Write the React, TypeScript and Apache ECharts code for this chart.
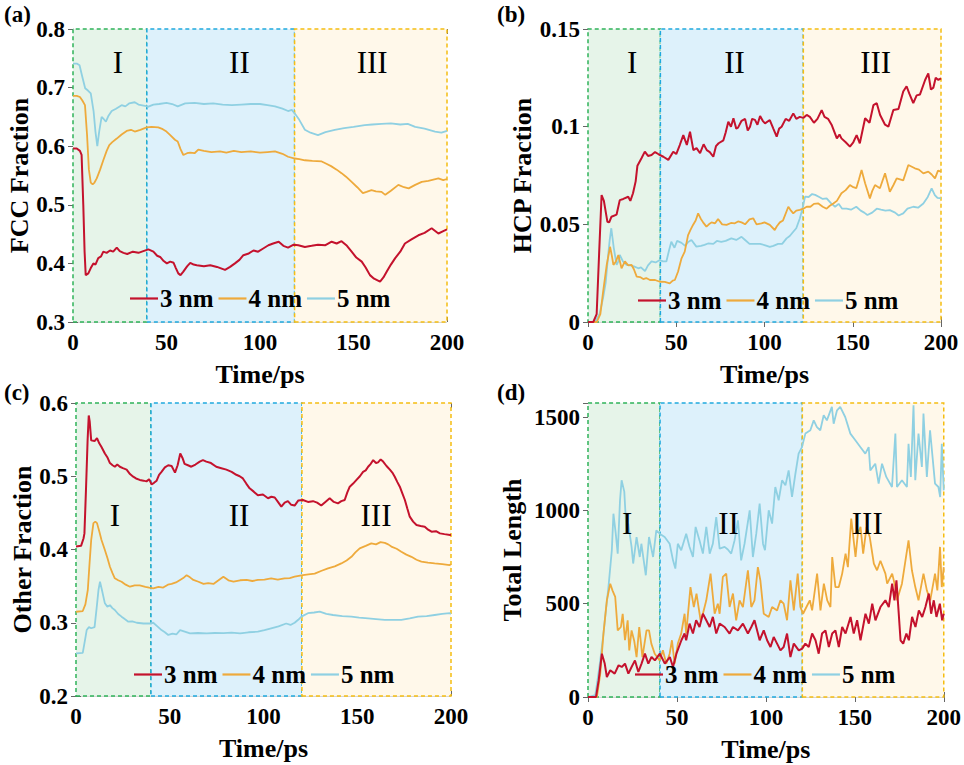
import React, { useEffect, useRef } from 'react';
import * as echarts from 'echarts';

const FONT = "'Times New Roman', 'Liberation Serif', serif";
const NAMES = ['3 nm', '4 nm', '5 nm'];
const COLORS = ['#c4122d', '#eeaa3c', '#8fd0e2'];
const REGION_NAMES = ['I', 'II', 'III'];
const X_MIN = 0;
const X_MAX = 200;
const X_INTERVAL = 50;

// (a) FCC fraction
const fcc3 = [[0,0.596],[2,0.596],[3.7,0.592],[4.6,0.585],[5.5,0.50],[6.2,0.42],[6.8,0.380],[8.2,0.383],[9.5,0.392],[10.9,0.400],[12,0.398],[13.5,0.409],[15,0.412],[16.2,0.420],[18,0.418],[19.8,0.422],[21.5,0.420],[23.4,0.427],[25,0.421],[27,0.418],[29,0.416],[32,0.420],[35,0.418],[37.6,0.421],[40.3,0.424],[43,0.420],[45,0.413],[46.6,0.411],[48.5,0.404],[50.2,0.400],[52,0.403],[53.8,0.401],[55,0.392],[56.3,0.383],[57.5,0.380],[59,0.386],[61,0.395],[62.7,0.401],[64.5,0.398],[66.2,0.397],[70,0.395],[73.4,0.397],[77,0.394],[81.3,0.389],[84,0.394],[86.6,0.400],[89,0.406],[91.1,0.414],[94,0.417],[96.5,0.422],[99,0.420],[101.5,0.425],[104.5,0.431],[107,0.434],[110,0.437],[112.5,0.430],[115,0.427],[118,0.432],[120.5,0.431],[124,0.428],[127.6,0.430],[131,0.432],[135,0.431],[138.3,0.437],[141,0.434],[143.6,0.438],[146.5,0.430],[149,0.420],[151.5,0.410],[154.4,0.403],[156.5,0.393],[158.8,0.380],[161,0.374],[164.2,0.369],[166,0.376],[167.8,0.386],[170,0.398],[172.3,0.409],[175,0.420],[177.5,0.434],[181,0.441],[184.7,0.448],[188,0.452],[191.8,0.460],[195.4,0.451],[198,0.455],[200,0.458]];
const fcc4 = [[0,0.686],[2,0.686],[3.7,0.684],[5,0.678],[6.4,0.670],[7.5,0.62],[8.5,0.56],[9.5,0.538],[10.5,0.535],[11.5,0.538],[12.7,0.545],[14.5,0.560],[16.2,0.576],[18,0.592],[19.4,0.602],[21,0.607],[23.4,0.613],[26,0.620],[28.7,0.626],[31,0.628],[33,0.625],[36,0.628],[39.4,0.632],[42,0.633],[45.6,0.632],[48,0.629],[50,0.625],[52,0.619],[54.5,0.611],[56,0.608],[57.5,0.595],[59,0.585],[61,0.588],[62.7,0.589],[65,0.588],[67,0.594],[70,0.592],[74,0.590],[78.6,0.591],[82,0.589],[86,0.592],[90,0.590],[95,0.591],[100,0.589],[104,0.590],[108,0.591],[112,0.587],[115,0.582],[118.7,0.579],[121,0.578],[124,0.576],[128,0.575],[133,0.574],[135.5,0.570],[138,0.566],[141,0.560],[143.6,0.554],[146,0.548],[149,0.539],[152,0.530],[155,0.520],[157,0.522],[159.6,0.525],[162,0.523],[165,0.522],[167,0.517],[170,0.524],[174,0.534],[177,0.530],[179.5,0.528],[183,0.534],[186.5,0.539],[190,0.541],[195.4,0.545],[198,0.542],[200,0.544]];
const fcc5 = [[0,0.741],[2,0.741],[3.5,0.738],[5,0.718],[6.5,0.699],[8,0.695],[9.5,0.690],[11,0.660],[12,0.625],[13,0.600],[14,0.625],[15.3,0.650],[16.5,0.646],[17.6,0.642],[19,0.652],[20.7,0.660],[23,0.664],[26,0.670],[28,0.668],[30,0.673],[33,0.675],[35,0.671],[38.5,0.669],[40,0.667],[43,0.671],[46,0.672],[50,0.674],[53,0.672],[56,0.668],[60,0.673],[65,0.674],[70,0.672],[75,0.673],[80,0.671],[85,0.670],[90,0.671],[95,0.672],[100,0.672],[104,0.670],[108,0.668],[112,0.664],[115,0.660],[117,0.662],[119,0.654],[121,0.645],[124,0.628],[127,0.623],[131,0.619],[135,0.624],[140,0.628],[145,0.631],[150,0.633],[156,0.636],[160,0.637],[165,0.638],[170,0.639],[175,0.637],[179,0.638],[183,0.633],[188,0.630],[193.6,0.625],[197,0.623],[200,0.626]];

// (b) HCP fraction
const hcp3 = [[0,0],[3,0],[4.9,0.004],[6.3,0.035],[7.7,0.065],[9,0.062],[11,0.0513],[12,0.051],[13.3,0.0539],[16.2,0.055],[18,0.0624],[20,0.063],[22.8,0.0641],[24,0.062],[25.5,0.0659],[27,0.072],[28,0.080],[30.3,0.0838],[32.2,0.0872],[34,0.085],[36,0.0855],[38,0.087],[39.8,0.086],[42.7,0.0846],[45.5,0.083],[48.3,0.0872],[50,0.086],[52,0.0906],[54,0.0957],[56,0.0906],[57.8,0.0974],[59.7,0.088],[61.5,0.089],[63.5,0.0864],[65.5,0.091],[67.3,0.088],[69,0.087],[71,0.0846],[72.5,0.09],[74,0.0915],[76.7,0.093],[78,0.097],[79.5,0.1025],[81,0.100],[82.4,0.1043],[84,0.099],[85,0.0995],[87,0.103],[89,0.104],[90.5,0.098],[91.8,0.100],[93,0.104],[94.6,0.1035],[96,0.101],[97.5,0.1055],[99,0.103],[100.3,0.1017],[103,0.1034],[105,0.099],[106.9,0.0949],[108.3,0.099],[109.7,0.100],[112,0.104],[114,0.103],[116.3,0.1068],[118,0.104],[120,0.105],[122,0.1045],[123.9,0.106],[125.7,0.105],[128,0.102],[130,0.104],[132.4,0.1085],[134,0.105],[136,0.104],[138,0.101],[141,0.094],[142.5,0.096],[143.6,0.094],[146,0.092],[148.4,0.0898],[150.3,0.092],[152.2,0.0957],[154,0.0915],[157,0.1043],[159.5,0.102],[161.7,0.111],[163.6,0.112],[165.5,0.106],[168.3,0.101],[170.2,0.100],[173,0.1085],[175.9,0.109],[178.6,0.118],[180.5,0.1207],[182,0.117],[184.3,0.112],[186.2,0.116],[188.1,0.1165],[191,0.1239],[192.8,0.1273],[194.3,0.119],[195.7,0.120],[197,0.125],[198.5,0.1239],[200,0.1247]];
const hcp4 = [[0,0],[5,0],[7,0.004],[8.5,0.015],[10.6,0.0292],[12.5,0.0385],[13.5,0.034],[14.4,0.0292],[15.8,0.031],[17.2,0.0343],[19,0.0275],[20.9,0.031],[22.8,0.029],[24.7,0.0292],[26,0.027],[27.6,0.0232],[29.5,0.023],[31.3,0.022],[33,0.0225],[35.1,0.0215],[38,0.0215],[40.7,0.0206],[43.5,0.0205],[46.3,0.0198],[48,0.0212],[49.2,0.0215],[51,0.0257],[53,0.0326],[54.8,0.036],[56.7,0.0445],[58,0.047],[59.5,0.0497],[61,0.052],[62.4,0.0556],[63.8,0.053],[65.2,0.051],[67.1,0.0488],[68.5,0.050],[70,0.051],[72,0.0505],[73.7,0.0527],[76,0.050],[78.5,0.0497],[81,0.0507],[83.2,0.0505],[85,0.0515],[87,0.051],[89,0.050],[91.5,0.0525],[93.6,0.0531],[95.5,0.050],[98.3,0.0505],[100,0.051],[103,0.0497],[105.8,0.0471],[107,0.049],[108.7,0.051],[110.5,0.052],[113.5,0.059],[115,0.057],[116.3,0.0556],[118,0.057],[120,0.0574],[122,0.058],[123.9,0.059],[126,0.059],[128,0.0605],[130.5,0.0607],[133,0.059],[135.2,0.058],[137,0.0595],[139,0.0607],[141,0.062],[143.6,0.0659],[146,0.0675],[148.4,0.0701],[150.3,0.069],[152,0.0685],[153.5,0.073],[155,0.0778],[157,0.071],[159.7,0.0633],[161,0.067],[162.6,0.0701],[165.4,0.0685],[168.3,0.0761],[169.5,0.072],[171,0.0667],[173,0.070],[174.9,0.0735],[176.8,0.073],[178.6,0.0725],[181.5,0.0804],[183.5,0.0795],[185.2,0.0787],[187.5,0.078],[190,0.0761],[192.8,0.077],[194.7,0.0755],[196.6,0.0735],[198.3,0.0775],[200,0.0770]];
const hcp5 = [[0,0],[4,0],[6.5,0.004],[8.5,0.0121],[10,0.02],[11.3,0.033],[12.3,0.042],[13.2,0.048],[14.6,0.038],[16.2,0.0292],[17.2,0.031],[18,0.0343],[19.8,0.031],[21.8,0.0292],[24,0.029],[26,0.0285],[28.5,0.0275],[30,0.028],[32.3,0.026],[34,0.029],[36,0.031],[38.3,0.0305],[40.7,0.0317],[42.5,0.031],[44.4,0.031],[46,0.037],[47.2,0.0411],[49,0.038],[50.5,0.0415],[53,0.0405],[55,0.039],[56.8,0.041],[58.6,0.042],[61.4,0.0386],[64,0.039],[66,0.0395],[68,0.0402],[71,0.040],[73,0.0415],[75.5,0.041],[78,0.0415],[81.2,0.0428],[84,0.042],[87,0.0436],[89,0.042],[91.5,0.040],[94.6,0.040],[97.5,0.040],[100,0.0394],[103,0.0385],[105,0.039],[107.7,0.040],[110,0.040],[112.5,0.0428],[114.3,0.044],[116.3,0.0462],[118,0.048],[120,0.053],[121.5,0.058],[123,0.0642],[125,0.064],[127,0.0655],[128.7,0.0651],[131,0.064],[133,0.063],[135.2,0.0633],[137.5,0.061],[140,0.059],[142,0.0605],[144,0.058],[146.5,0.058],[149,0.0575],[152,0.059],[154.5,0.057],[156.5,0.056],[158.3,0.0548],[161,0.056],[163.6,0.058],[166,0.0575],[168.5,0.057],[171,0.0573],[174,0.056],[176,0.0545],[178.6,0.0556],[181,0.058],[184.3,0.059],[187,0.0585],[190,0.0607],[192.5,0.064],[194.7,0.0684],[196.5,0.065],[198,0.0635],[200,0.0633]];

// (c) Other fraction
const oth3 = [[0,0.404],[2.7,0.405],[4,0.415],[4.5,0.422],[5.3,0.48],[6.2,0.55],[6.8,0.583],[7.3,0.575],[8.1,0.549],[9.9,0.548],[11.2,0.552],[12.4,0.545],[13.6,0.540],[15.4,0.531],[16.7,0.526],[18.1,0.518],[19.5,0.515],[20.7,0.513],[22,0.516],[23.4,0.513],[25,0.511],[27,0.509],[28.8,0.503],[30.5,0.4994],[32,0.497],[34,0.495],[36,0.494],[37.6,0.493],[39,0.496],[40.3,0.489],[41.6,0.491],[43,0.494],[44.3,0.502],[45.6,0.506],[47.4,0.512],[49.2,0.515],[51,0.514],[52.8,0.505],[54.2,0.515],[55.6,0.531],[56.8,0.525],[57.9,0.517],[59.7,0.515],[61.5,0.513],[63.7,0.516],[66,0.520],[67.7,0.522],[69.5,0.520],[72,0.518],[74.8,0.513],[77.5,0.511],[80.2,0.509],[83,0.506],[85.5,0.502],[87.3,0.500],[89,0.497],[90.8,0.490],[92.6,0.4835],[94.8,0.479],[97,0.474],[99.7,0.475],[102.4,0.470],[104.2,0.472],[106,0.471],[107.7,0.465],[109.5,0.4585],[111.3,0.464],[113,0.466],[114.8,0.461],[116.6,0.460],[118.6,0.467],[121,0.4676],[123.7,0.465],[126.4,0.466],[128.6,0.464],[130.8,0.460],[133,0.465],[135.3,0.470],[137.5,0.465],[139.7,0.463],[141.5,0.466],[143.3,0.4676],[144.7,0.478],[146,0.4857],[147.8,0.490],[149.6,0.495],[151.4,0.500],[153.1,0.506],[154.5,0.508],[155.8,0.513],[157.2,0.517],[158.5,0.522],[160,0.518],[161.1,0.519],[162.5,0.523],[163.8,0.520],[165.6,0.514],[167.4,0.509],[168.7,0.505],[170,0.4994],[171.4,0.492],[172.7,0.4857],[174,0.477],[175.4,0.4676],[176.7,0.456],[178,0.4448],[179.8,0.438],[181.6,0.4334],[183.8,0.432],[186,0.431],[187.8,0.427],[189.6,0.4243],[192,0.425],[194.1,0.422],[196.5,0.421],[199.5,0.4198],[200,0.420]];
const oth4 = [[0,0.315],[3.6,0.316],[5,0.325],[6.3,0.345],[7.2,0.38],[8.1,0.413],[9.3,0.436],[10.3,0.438],[11.2,0.436],[12.4,0.425],[13.6,0.413],[15.4,0.3993],[16.8,0.388],[18.1,0.3765],[19.4,0.368],[20.7,0.3607],[22.5,0.358],[24.3,0.356],[26.5,0.352],[28.8,0.3492],[31.3,0.351],[34,0.351],[37,0.349],[39,0.348],[41.2,0.347],[44,0.349],[46.5,0.348],[49,0.352],[51,0.353],[53.3,0.355],[55.5,0.3584],[57.2,0.361],[59,0.365],[60.8,0.362],[62.6,0.3584],[65.3,0.356],[68,0.353],[70.5,0.354],[73.3,0.353],[76,0.358],[78.6,0.3629],[81.3,0.358],[84,0.356],[87.5,0.358],[91,0.3584],[94,0.357],[97,0.3584],[100.5,0.359],[104.1,0.3607],[107.6,0.359],[111.2,0.3607],[114,0.361],[116.6,0.3629],[121,0.365],[124,0.366],[127.3,0.367],[131,0.371],[134.4,0.3743],[138,0.377],[141.5,0.381],[144.3,0.385],[146.9,0.390],[149,0.396],[151.3,0.4016],[154.5,0.405],[157.5,0.4084],[160,0.407],[162.4,0.410],[164.7,0.409],[166.5,0.407],[168.2,0.404],[171,0.401],[173.5,0.397],[176.2,0.393],[178.9,0.390],[181.6,0.386],[184.2,0.3834],[187.7,0.382],[191.3,0.381],[195.3,0.380],[199.3,0.3788],[200,0.380]];
const oth5 = [[0,0.2583],[3.6,0.259],[4.7,0.275],[5.7,0.290],[6.9,0.294],[8.1,0.2925],[9.9,0.294],[11,0.320],[12,0.345],[12.8,0.356],[13.8,0.345],[15.4,0.3265],[16.7,0.322],[18.1,0.324],[19.4,0.320],[20.7,0.3174],[22.5,0.312],[24.3,0.3083],[26,0.305],[27.9,0.3015],[30,0.302],[32.4,0.300],[36,0.299],[39.5,0.299],[41.2,0.300],[43.4,0.295],[45.6,0.290],[47.4,0.287],[49.2,0.2833],[51.5,0.285],[53.5,0.284],[55.5,0.290],[58,0.288],[60.8,0.2856],[65,0.286],[69.7,0.2856],[74,0.286],[78.6,0.2858],[83,0.2865],[87.5,0.2856],[92,0.287],[97,0.2878],[100.5,0.290],[104.1,0.2924],[108,0.295],[112.1,0.299],[114.4,0.297],[116.6,0.3],[118.5,0.304],[120.2,0.3083],[123.7,0.313],[127,0.314],[130,0.3152],[133.5,0.312],[137.1,0.3106],[142,0.309],[146.9,0.3083],[151,0.307],[155.8,0.306],[160,0.305],[164.7,0.3038],[169,0.304],[173.5,0.3038],[178,0.306],[182.4,0.3083],[187,0.309],[191.3,0.3106],[195.3,0.312],[199.3,0.313],[200,0.312]];

// (d) Total length
const len3 = [[0,0],[4.5,0],[6,89],[7.8,232],[9.4,179],[10.6,107],[12.5,143],[15,125],[17.2,170],[19,161],[20.8,179],[22.7,125],[24.5,161],[26.4,196],[28.3,134],[30.1,179],[32,232],[33.9,179],[35.7,214],[37.6,196],[40.4,232],[43.2,179],[46,214],[47.8,161],[49.7,232],[52.5,304],[54.3,340],[55.2,304],[57.1,393],[59,340],[60.8,411],[62.7,375],[64.6,446],[66.5,411],[68.4,375],[70.2,429],[72.1,340],[74,393],[76.8,375],[79.6,340],[81.5,375],[84.3,357],[87.1,393],[89.9,340],[91.8,375],[93.6,411],[96.5,304],[98.8,357],[100.7,304],[102.6,268],[104.4,321],[106.3,286],[108.2,250],[110,268],[111.9,340],[113.8,214],[115.7,286],[118.5,250],[120.4,259],[122.2,286],[124.1,268],[126,340],[127.9,304],[129.7,232],[131.6,340],[133.5,357],[135.4,268],[137.3,340],[139.1,357],[141,268],[142.9,375],[144.8,340],[147.6,429],[149.4,340],[151.3,411],[153.2,304],[156,446],[157.9,393],[159.8,500],[161.6,411],[164.4,482],[167.2,518],[169.1,482],[171,607],[172.3,518],[173.4,625],[174.7,446],[175.7,304],[177.2,286],[179,340],[180.4,304],[182.2,429],[184.1,375],[186,464],[187.9,429],[189.7,482],[191.6,554],[192.9,446],[194.4,518],[195.9,429],[197.8,500],[199.1,411],[200,446]];
const len4 = [[0,0],[5,0],[6.9,125],[8.7,340],[10.6,518],[12.5,607],[13.8,570],[15.3,536],[16.7,357],[18.5,375],[19.5,446],[20.8,304],[22.3,411],[23.2,250],[24.5,357],[26,300],[27.3,214],[28.8,375],[30.6,214],[32.9,357],[34.3,357],[35.6,286],[37.5,232],[40.3,196],[42.1,250],[44,179],[45.9,232],[47.2,304],[48.7,179],[50.5,286],[52.4,340],[54.3,446],[55.2,340],[57.6,589],[59.5,482],[61,554],[63.3,411],[64.6,446],[66.5,518],[68.9,661],[71.2,446],[73,500],[74,446],[75.8,643],[77.7,661],[79.6,482],[81.5,554],[83.3,411],[85.2,518],[87.1,482],[89.9,679],[91.8,482],[93.6,518],[95.5,696],[96.9,625],[98.8,446],[101.6,429],[103.5,482],[106.3,464],[108.2,518],[110,500],[111.9,411],[113.8,625],[115.7,464],[117.9,661],[119.4,482],[120.9,446],[122.8,482],[124.7,518],[126,464],[128.8,661],[130.7,464],[132.6,607],[134.5,518],[136.3,482],[137.3,750],[139.1,589],[141,589],[142.9,661],[144.8,768],[146.1,696],[148,956],[150.4,750],[151.7,875],[153.2,911],[154.7,768],[156.6,911],[158.4,857],[160.7,715],[162.5,679],[164.4,730],[167.2,661],[168.2,607],[171,661],[172.8,589],[173.7,518],[176.5,607],[180.2,839],[182.1,679],[184,589],[185.8,518],[188.6,661],[190.5,571],[192.4,518],[195.1,661],[196.4,571],[197.9,804],[198.9,589],[200,696]];
const len5 = [[0,0],[4.1,10],[5.5,100],[6.9,196],[8.7,340],[10,460],[11.5,589],[13.4,786],[14.3,982],[15.6,875],[16.7,768],[18,1054],[18.9,1161],[20.4,1100],[21.7,875],[22.6,929],[24.5,804],[25.4,715],[27.3,857],[29.1,750],[30,821],[32.5,652],[34.3,857],[36.6,750],[38.4,893],[40.3,875],[43.1,857],[45.9,821],[47.8,732],[49.1,688],[50.5,821],[52.4,786],[55.2,875],[57.1,804],[59,750],[60.5,911],[62.7,839],[64.6,768],[66.5,911],[68.4,768],[70.2,821],[72.1,964],[74,795],[76.8,804],[78.6,790],[80.5,768],[82.4,839],[84.3,946],[86.1,732],[88,821],[90.9,1000],[92.7,750],[94.6,875],[96.5,1036],[98.4,820],[99.5,786],[101.6,1000],[103.5,929],[105.3,1125],[107.2,1054],[109.1,1161],[111,1134],[112.8,1214],[114.7,1072],[116.6,1196],[118.4,1304],[120.3,1339],[122.2,1411],[125,1429],[126.9,1482],[128.7,1446],[130.6,1429],[132.5,1509],[134.3,1482],[137.1,1554],[138.1,1464],[140,1536],[141.8,1554],[144.6,1500],[147.5,1411],[150.3,1375],[153.1,1339],[155.9,1304],[157.8,1339],[158.7,1214],[161.5,1250],[163.4,1143],[165.3,1250],[167.7,1179],[170.9,1125],[172.8,1411],[173.7,1125],[176.5,1161],[179.3,1125],[180.2,1357],[181.5,1179],[183,1563],[184,1161],[185.8,1411],[187.7,1232],[188.6,1518],[190.5,1179],[192.3,1429],[195.1,1143],[197,1125],[198,1071],[198.9,1357],[200,1107]];

// region boundaries (ps) for each panel
const boundsA = [39.5, 118.5];
const boundsB = [41, 122];
const boundsC = [40, 120.5];
const boundsD = [40.5, 120.5];

const REGION_STYLE = [
  { color: '#e6f4e9', border: '#2fb35a' },
  { color: '#ddf1fb', border: '#1fa9de' },
  { color: '#fff8ea', border: '#f5bd12' },
];

const PANELS = [
  { tag: '(a)', tagPos: [4, 3], grid: { left: 73, top: 29, width: 374, height: 293 }, y: [0.3, 0.8, 0.1], yName: 'FCC Fraction', yGap: 39, bounds: boundsA, data: [fcc3, fcc4, fcc5], regionAt: [[24, 0.742], [89, 0.742], [160, 0.742]], legend: [130, 286] },
  { tag: '(b)', tagPos: [497, 3], grid: { left: 588, top: 29, width: 353, height: 293 }, y: [0, 0.15, 0.05], yName: 'HCP Fraction', yGap: 51, bounds: boundsB, data: [hcp3, hcp4, hcp5], regionAt: [[25, 0.1326], [83, 0.1326], [163, 0.1326]], legend: [638, 288] },
  { tag: '(c)', tagPos: [4, 381], grid: { left: 76, top: 403, width: 375, height: 293 }, y: [0.2, 0.6, 0.1], yName: 'Other Fraction', yGap: 40, bounds: boundsC, data: [oth3, oth4, oth5], regionAt: [[20.7, 0.447], [87, 0.447], [160, 0.447]], legend: [134, 662] },
  { tag: '(d)', tagPos: [497, 381], grid: { left: 588, top: 403, width: 356, height: 294 }, y: [0, 1575, 500], yName: 'Total Length', yGap: 63, bounds: boundsD, data: [len3, len4, len5], regionAt: [[22, 930], [79, 930], [157, 930]], legend: [635, 662] },
];

function buildOption() {
  const grid: any[] = [];
  const xAxis: any[] = [];
  const yAxis: any[] = [];
  const series: any[] = [];
  const legend: any[] = [];
  const graphic: any[] = [];
  const tickStyle = { inside: true, length: 5, lineStyle: { color: '#666', width: 1 } };
  const fmt = (interval: number) => (v: number) => {
    const r = Math.round(v / interval);
    if (Math.abs(r * interval - v) > 1e-9 * Math.max(1, Math.abs(v))) return '';
    return String(parseFloat(v.toFixed(4)));
  };

  PANELS.forEach((p, i) => {
    grid.push({ ...p.grid, containLabel: false });
    const [ymin, ymax, yint] = p.y;
    xAxis.push({
      type: 'value', gridIndex: i, min: X_MIN, max: X_MAX, interval: X_INTERVAL, position: 'bottom',
      name: 'Time/ps', nameLocation: 'middle', nameGap: 39,
      nameTextStyle: { fontFamily: FONT, fontWeight: 'bold', fontSize: 26, color: '#000' },
      axisLine: { show: false }, axisTick: tickStyle,
      axisLabel: { fontFamily: FONT, fontWeight: 'bold', fontSize: 23, color: '#000', margin: 9, formatter: fmt(X_INTERVAL) },
      splitLine: { show: false },
    });
    xAxis.push({
      type: 'value', gridIndex: i, min: X_MIN, max: X_MAX, interval: X_INTERVAL, position: 'top',
      axisLine: { show: false }, axisTick: tickStyle, axisLabel: { show: false }, splitLine: { show: false },
    });
    yAxis.push({
      type: 'value', gridIndex: i, min: ymin, max: ymax, interval: yint, position: 'left',
      name: p.yName, nameLocation: 'middle', nameGap: p.yGap,
      nameTextStyle: { fontFamily: FONT, fontWeight: 'bold', fontSize: 26, color: '#000' },
      axisLine: { show: false }, axisTick: tickStyle,
      axisLabel: { fontFamily: FONT, fontWeight: 'bold', fontSize: 23, color: '#000', margin: 8, formatter: fmt(yint) },
      splitLine: { show: true, lineStyle: { color: '#d6d6d6', width: 1 } },
    });
    yAxis.push({
      type: 'value', gridIndex: i, min: ymin, max: ymax, interval: yint, position: 'right',
      axisLine: { show: true, lineStyle: { color: '#a0a0a0', width: 1 } }, axisTick: tickStyle,
      axisLabel: { show: false }, splitLine: { show: false },
    });

    const edges = [X_MIN, p.bounds[0], p.bounds[1], X_MAX];
    series.push({
      type: 'line', name: 'bg' + i, xAxisIndex: i * 2, yAxisIndex: i * 2, data: [], z: 1, silent: true,
      markArea: {
        silent: true,
        data: REGION_STYLE.map((r, k) => [
          { xAxis: edges[k], itemStyle: { color: r.color, borderColor: r.border, borderWidth: 1.5, borderType: [4, 3] } },
          { xAxis: edges[k + 1] },
        ]),
      },
      markPoint: {
        silent: true, symbol: 'circle', symbolSize: 0,
        label: { show: true, position: 'inside', formatter: '{b}', fontFamily: FONT, fontSize: 31, color: '#000' },
        data: p.regionAt.map((c, k) => ({ name: REGION_NAMES[k], coord: c })),
      },
    });
    [2, 1, 0].forEach((k) => {
      series.push({
        type: 'line', name: NAMES[k], xAxisIndex: i * 2, yAxisIndex: i * 2, data: p.data[k],
        symbol: 'none', z: 3, lineStyle: { color: COLORS[k], width: k === 0 ? 2 : 1.8 }, itemStyle: { color: COLORS[k] },
      });
    });
    legend.push({
      data: NAMES, left: p.legend[0], top: p.legend[1], orient: 'horizontal', icon: 'rect', itemWidth: 28, itemHeight: 2.2, itemGap: 5,
      selectedMode: false, padding: 0,
      textStyle: { fontFamily: FONT, fontWeight: 'bold', fontSize: 25, color: '#000', padding: [0, 0, 0, -3] },
    });
    graphic.push({
      type: 'text', left: p.tagPos[0], top: p.tagPos[1],
      style: { text: p.tag, fontFamily: FONT, fontWeight: 'bold', fontSize: 23, fill: '#000' },
    });
  });

  return { animation: false, backgroundColor: '#fff', grid, xAxis, yAxis, series, legend, graphic };
}

export default function App() {
  const ref = useRef<HTMLDivElement>(null);
  useEffect(() => {
    document.body.style.margin = '0';
    if (!ref.current) return;
    const chart = echarts.init(ref.current, undefined, { renderer: 'svg' });
    chart.setOption(buildOption() as any);
    return () => chart.dispose();
  }, []);
  return <div ref={ref} style={{ position: 'absolute', left: 0, top: 0, width: 964, height: 765 }} />;
}
